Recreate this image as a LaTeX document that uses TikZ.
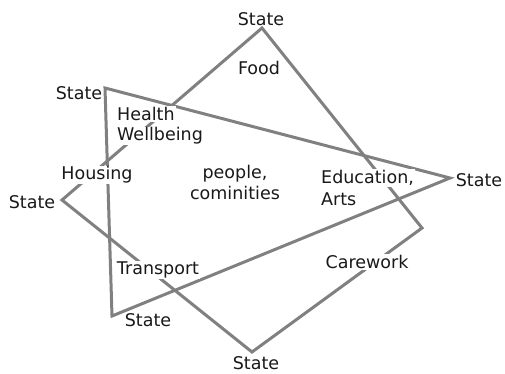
\documentclass[tikz,border=0pt]{standalone}
\usepackage{fontspec}
\setmainfont{DejaVu Sans}
\tikzset{
  edge_l/.style = {draw=gray, line width=3pt, line join=miter},
  txt_n/.style = {inner sep=1pt, text=black!90, font=\fontsize{17.5}{21}\selectfont},
  state_n/.style = {txt_n},
  area_n/.style = {txt_n, fill=white}
}

\begin{document}
\begin{tikzpicture}[x=1pt, y=-1pt]
	\useasboundingbox (0,0) rectangle (505,374);
	% corners of the square and of the triangle
	\coordinate (sq_t) at (262,28);
	\coordinate (sq_r) at (422,228);
	\coordinate (sq_b) at (252,352);
	\coordinate (sq_l) at (62,200);
	\coordinate (tr_a) at (105,88);
	\coordinate (tr_b) at (450,178);
	\coordinate (tr_c) at (112,316);

	\draw [edge_l] (sq_t) -- (sq_r) -- (sq_b) -- (sq_l) -- cycle;
	\draw [edge_l] (tr_a) -- (tr_b) -- (tr_c) -- cycle;

	% states at the corners
	\node [state_n] (st_1) at (261,19) {State};
	\node [state_n] (st_2) at (79,93) {State};
	\node [state_n] (st_3) at (32,202) {State};
	\node [state_n] (st_4) at (479,180) {State};
	\node [state_n] (st_5) at (148,320) {State};
	\node [state_n] (st_6) at (256,363) {State};

	% areas
	\node [area_n] (food) at (259,68) {Food};
	\node [area_n, anchor=west] (health) at (116,114) {Health};
	\node [area_n, anchor=west] (wellb) at (116,136) {Wellbeing};
	\node [area_n] (housing) at (97,175) {Housing};
	\node [area_n, align=center] (people) at (235,182) {people,\\cominities};
	\node [area_n, anchor=west] (edu) at (320,178) {Education,};
	\node [area_n, anchor=west] (arts) at (320,199) {Arts};
	\node [area_n] (carework) at (367,262) {Carework};
	\node [area_n] (transport) at (158,270) {Transport};
\end{tikzpicture}
\end{document}
